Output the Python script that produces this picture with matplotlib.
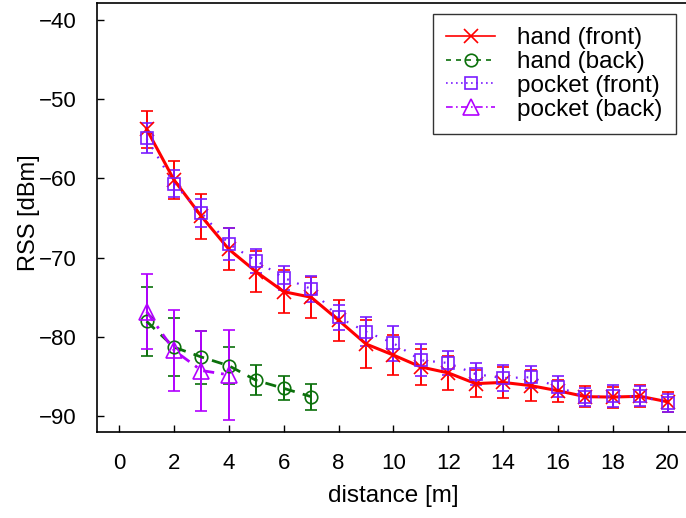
import matplotlib
matplotlib.use("Agg")
import matplotlib.pyplot as plt
from matplotlib.lines import Line2D

plt.rcParams['font.family'] = ['Liberation Sans', 'DejaVu Sans']
plt.rcParams['font.size'] = 16

# distances [m]
dist_front = list(range(1, 21))
dist_hand_back = list(range(1, 8))
dist_pocket_back = list(range(1, 5))

# mean RSS [dBm] and spread
hand_front = [-53.8, -60.2, -64.8, -68.95, -71.8, -74.3, -75.0, -77.9, -80.9, -82.3,
              -83.8, -84.55, -85.9, -85.75, -86.15, -86.8, -87.55, -87.6, -87.5, -88.2]
hand_front_err = [2.3, 2.4, 2.8, 2.65, 2.6, 2.7, 2.6, 2.6, 3.0, 2.5,
                  2.3, 2.15, 1.7, 1.95, 1.95, 1.4, 1.35, 1.33, 1.4, 1.3]

hand_back = [-78.05, -81.3, -82.55, -83.65, -85.5, -86.5, -87.55]
hand_back_err = [4.35, 3.7, 3.35, 2.35, 1.9, 1.5, 1.65]

pocket_front = [-54.95, -60.7, -64.35, -68.3, -70.4, -72.55, -73.95, -77.55, -79.35, -80.8,
                -82.95, -83.3, -84.7, -85.2, -85.1, -86.3, -87.6, -87.5, -87.5, -88.35]
pocket_front_err = [1.9, 1.7, 1.75, 2.0, 1.5, 1.55, 1.65, 1.55, 1.85, 2.2,
                    2.05, 1.5, 1.4, 1.6, 1.4, 1.3, 1.1, 1.4, 1.25, 1.15]

pocket_back = [-76.8, -81.7, -84.25, -84.8]
pocket_back_err = [4.7, 5.1, 5.05, 5.7]

labels = ['hand (front)', 'hand (back)', 'pocket (front)', 'pocket (back)']
c_red = '#ff0000'
c_green = '#0b700b'
c_blue = '#7a1cff'
c_violet = '#b200ff'

fig = plt.figure(figsize=(6.86, 5.18), dpi=100)
ax = fig.add_axes([0.1418, 0.1654, 0.8582, 0.8282])

common = dict(capsize=4.2, elinewidth=1.4, capthick=1.4, mfc='none', mew=1.2)

ax.errorbar(dist_front, hand_front, yerr=hand_front_err, color=c_red, ls='-', lw=2.2,
            marker='x', ms=10, **common)
ax.errorbar(dist_hand_back, hand_back, yerr=hand_back_err, color=c_green, ls=(0, (4, 3)), lw=2.0,
            marker='o', ms=9, **common)
ax.errorbar(dist_front, pocket_front, yerr=pocket_front_err, color=c_blue, ls=(0, (0.8, 4)), lw=1.6,
            marker='s', ms=8.5, **common)
ax.errorbar(dist_pocket_back, pocket_back, yerr=pocket_back_err, color=c_violet, ls=(0, (4, 2.5, 1, 2.5)),
            lw=2.0, marker='^', ms=11, **common)

ax.set_xlim(-0.8, 20.67)
ax.set_ylim(-92.05, -37.9)
ax.set_xticks(range(0, 21, 2))
ax.set_yticks(range(-90, -39, 10))
ax.set_yticklabels(['\u2212%d' % abs(v) for v in range(-90, -39, 10)])
ax.tick_params(direction='in', length=5, width=1, pad=15, top=False, right=False, labelsize=16)
ax.spines['right'].set_visible(False)
for s in ('left', 'bottom', 'top'):
    ax.spines[s].set_linewidth(1.2)

ax.set_xlabel('distance [m]', fontsize=17.5, va='top')
ax.xaxis.set_label_coords(0.503, -0.123)
ax.set_ylabel('RSS [dBm]', fontsize=17)
ax.yaxis.set_label_coords(-0.097, 0.511)

handles = [
    Line2D([], [], color=c_red, ls='-', lw=1.2, marker='x', ms=10, mew=1.2),
    Line2D([], [], color=c_green, ls=(0, (3, 3)), lw=1.2, marker='o', ms=9, mfc='none', mew=1.2),
    Line2D([], [], color=c_blue, ls=(0, (1, 2)), lw=1.2, marker='s', ms=8.5, mfc='none', mew=1.2),
    Line2D([], [], color=c_violet, ls=(0, (4, 2, 1, 2)), lw=1.2, marker='^', ms=11, mfc='none', mew=1.2),
]
leg = ax.legend(handles, labels, loc='upper right', bbox_to_anchor=(0.9825, 0.975),
                borderaxespad=0, frameon=True, fancybox=False, handlelength=2.0,
                handletextpad=0.9, labelspacing=0.07, borderpad=0.55, fontsize=17.5)
leg.get_frame().set_edgecolor('black')
leg.get_frame().set_linewidth(1.0)

fig.savefig('out.png', dpi=100)
